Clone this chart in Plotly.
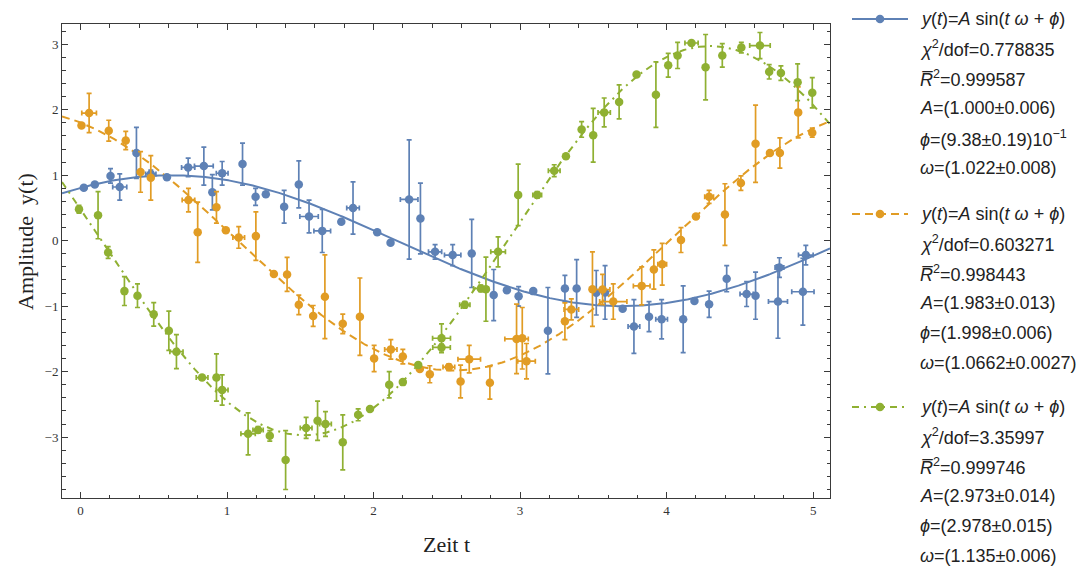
import numpy as np
import plotly.graph_objects as go

# ---------------- data ----------------
blue_t = [0.023, 0.098, 0.205, 0.268, 0.382, 0.48, 0.59, 0.735, 0.842, 0.90, 0.967, 1.106, 1.195, 1.265,
          1.39, 1.49, 1.56, 1.65, 1.78, 1.86, 2.025, 2.116, 2.243, 2.32, 2.42, 2.54, 2.67, 2.82, 2.91,
          2.99, 3.09, 3.19, 3.306, 3.386, 3.52, 3.58, 3.70, 3.777, 3.88, 3.966, 4.113, 4.19, 4.29, 4.41,
          4.546, 4.607, 4.76, 4.77, 4.93, 4.95]
blue_y = [0.81, 0.86, 0.99, 0.82, 1.34, 1.02, 0.97, 1.12, 1.14, 0.74, 1.03, 1.17, 0.67, 0.71,
          0.52, 0.86, 0.37, 0.15, 0.29, 0.50, 0.13, -0.03, 0.63, 0.34, -0.17, -0.22, -0.195, -0.83, -0.755,
          -0.85, -0.77, -1.375, -0.73, -0.73, -0.795, -0.79, -1.04, -1.31, -1.16, -1.20, -1.20, -0.92, -0.97, -0.58,
          -0.815, -0.84, -0.93, -0.41, -0.78, -0.22]
blue_xerr = [0, 0, 0, 0.048, 0, 0.035, 0, 0.045, 0.064, 0, 0.04, 0, 0, 0,
             0, 0, 0.063, 0.057, 0, 0.043, 0, 0, 0.06, 0, 0.045, 0.056, 0, 0, 0,
             0, 0, 0, 0, 0, 0, 0, 0, 0.04, 0, 0.04, 0, 0, 0, 0,
             0.045, 0, 0.065, 0.03, 0.076, 0.05]
blue_yerr = [0.03, 0.03, 0.11, 0.20, 0.39, 0.06, 0.03, 0.14, 0.29, 0.27, 0.18, 0.32, 0.13, 0.03,
             0.25, 0.36, 0.25, 0.33, 0.03, 0.40, 0.03, 0.03, 0.91, 0.54, 0.11, 0.16, 0.52, 0.39, 0.03,
             0.15, 0.03, 0.66, 0.20, 0.44, 0.34, 0.41, 0.03, 0.41, 0.23, 0.30, 0.51, 0.03, 0.20, 0.20,
             0.19, 0.36, 0.56, 0.15, 0.51, 0.15]

orange_t = [0.007, 0.059, 0.193, 0.309, 0.41, 0.48, 0.737, 0.80, 0.928, 0.992, 1.08, 1.197, 1.32, 1.41,
            1.49, 1.588, 1.668, 1.79, 1.907, 2.004, 2.118, 2.20, 2.316, 2.384, 2.514, 2.594, 2.653, 2.794,
            2.976, 3.015, 3.044, 3.306, 3.35, 3.494, 3.563, 3.636, 3.83, 3.913, 3.97, 4.098, 4.20, 4.29,
            4.398, 4.507, 4.607, 4.705, 4.773, 4.898, 4.994]
orange_y = [1.76, 1.95, 1.68, 1.53, 1.05, 0.96, 0.62, 0.13, 0.51, 0.16, 0.05, 0.07, -0.51, -0.515,
            -0.98, -1.15, -0.855, -1.27, -1.16, -1.80, -1.66, -1.77, -1.96, -2.04, -1.93, -2.15, -1.81, -2.17,
            -1.50, -1.49, -1.84, -1.23, -1.05, -0.74, -0.745, -0.93, -0.69, -0.44, -0.36, 0.01, 0.37, 0.67,
            0.40, 0.88, 1.48, 1.34, 1.34, 1.96, 1.65]
orange_xerr = [0, 0.05, 0, 0, 0, 0, 0.043, 0, 0, 0, 0.04, 0, 0, 0,
               0, 0, 0, 0, 0, 0, 0.042, 0, 0, 0, 0.04, 0, 0.077, 0,
               0.08, 0, 0.06, 0, 0.05, 0, 0.05, 0.093, 0.057, 0, 0.03, 0, 0, 0.03,
               0, 0, 0, 0, 0, 0, 0]
orange_yerr = [0.03, 0.30, 0.16, 0.14, 0.31, 0.34, 0.18, 0.46, 0.24, 0.03, 0.165, 0.37, 0.03, 0.26,
               0.15, 0.16, 0.64, 0.15, 0.59, 0.20, 0.15, 0.11, 0.03, 0.13, 0.05, 0.25, 0.21, 0.25,
               0.53, 0.47, 0.27, 0.28, 0.16, 0.57, 0.23, 0.27, 0.29, 0.30, 0.32, 0.19, 0.03, 0.10,
               0.47, 0.11, 0.59, 0.03, 0.23, 0.39, 0.07]

green_t = [-0.01, 0.12, 0.189, 0.30, 0.389, 0.50, 0.603, 0.655, 0.83, 0.928, 0.967, 1.144, 1.212, 1.292,
           1.40, 1.54, 1.618, 1.672, 1.79, 1.895, 1.976, 2.107, 2.20, 2.305, 2.464, 2.464, 2.623, 2.732,
           2.767, 2.85, 2.987, 3.117, 3.233, 3.313, 3.42, 3.499, 3.574, 3.676, 3.795, 3.927, 4.011, 4.075,
           4.17, 4.266, 4.38, 4.51, 4.637, 4.70, 4.78, 4.894, 4.994]
green_y = [0.48, 0.39, -0.18, -0.77, -0.84, -1.125, -1.375, -1.695, -2.09, -2.09, -2.28, -2.95, -2.89, -2.98,
           -3.35, -2.86, -2.75, -2.80, -3.08, -2.66, -2.57, -2.20, -2.16, -1.90, -1.49, -1.63, -0.98, -0.73,
           -0.74, -0.17, 0.70, 0.70, 1.07, 1.29, 1.70, 1.61, 1.96, 2.12, 2.54, 2.23, 2.68, 2.83,
           3.02, 2.65, 2.83, 2.95, 2.98, 2.58, 2.56, 2.42, 2.26]
green_xerr = [0, 0, 0, 0, 0, 0, 0, 0.045, 0.04, 0, 0.04, 0.049, 0.035, 0,
              0, 0.04, 0, 0.04, 0, 0, 0, 0, 0, 0, 0.061, 0.06, 0.035, 0.05,
              0, 0.05, 0, 0.03, 0.04, 0, 0, 0, 0.042, 0, 0, 0, 0, 0,
              0.045, 0, 0, 0, 0.07, 0, 0, 0, 0]
green_yerr = [0.06, 0.36, 0.09, 0.22, 0.18, 0.18, 0.30, 0.26, 0.03, 0.36, 0.23, 0.32, 0.05, 0.08,
              0.45, 0.16, 0.30, 0.19, 0.42, 0.09, 0.03, 0.20, 0.03, 0.03, 0.22, 0.05, 0.05, 0.05,
              0.49, 0.23, 0.47, 0.05, 0.09, 0.03, 0.12, 0.41, 0.22, 0.26, 0.03, 0.50, 0.18, 0.20,
              0.03, 0.50, 0.18, 0.08, 0.20, 0.11, 0.11, 0.28, 0.23]

# fit parameters (from the legend)
fit_A = [1.000, 1.983, 2.973]
fit_phi = [0.938, 1.998, 2.978]
fit_omega = [1.022, 1.0662, 1.135]

legend_texts = [
    ["<i>y</i>(<i>t</i>)=<i>A</i> sin(<i>t</i> <i>ω</i> + <i>ϕ</i>)",
     "<i>χ</i><sup>2</sup>/dof=0.778835",
     "<i>R\u0305</i><sup>2</sup>=0.999587",
     "<i>A</i>=(1.000±0.006)",
     "<i>ϕ</i>=(9.38±0.19)10<sup>−1</sup>",
     "<i>ω</i>=(1.022±0.008)"],
    ["<i>y</i>(<i>t</i>)=<i>A</i> sin(<i>t</i> <i>ω</i> + <i>ϕ</i>)",
     "<i>χ</i><sup>2</sup>/dof=0.603271",
     "<i>R\u0305</i><sup>2</sup>=0.998443",
     "<i>A</i>=(1.983±0.013)",
     "<i>ϕ</i>=(1.998±0.006)",
     "<i>ω</i>=(1.0662±0.0027)"],
    ["<i>y</i>(<i>t</i>)=<i>A</i> sin(<i>t</i> <i>ω</i> + <i>ϕ</i>)",
     "<i>χ</i><sup>2</sup>/dof=3.35997",
     "<i>R\u0305</i><sup>2</sup>=0.999746",
     "<i>A</i>=(2.973±0.014)",
     "<i>ϕ</i>=(2.978±0.015)",
     "<i>ω</i>=(1.135±0.006)"],
]

# ---------------- styling ----------------
colors = ["#5E81B5", "#E19C24", "#8FB032"]
dashes = ["solid", "8px,5px", "7px,5px,2px,5px"]
x_range = [-0.126, 5.115]
y_range = [-3.93, 3.31]
W, H = 1085, 567
ML, MR, MT, MB = 62, 255, 24, 69
PW, PH = W - ML - MR, H - MT - MB

series = [
    (blue_t, blue_y, blue_xerr, blue_yerr),
    (orange_t, orange_y, orange_xerr, orange_yerr),
    (green_t, green_y, green_xerr, green_yerr),
]

fig = go.Figure()
t_fit = np.linspace(x_range[0], x_range[1], 500)
for i in range(3):
    yf = fit_A[i] * np.sin(fit_omega[i] * t_fit + fit_phi[i])
    fig.add_trace(go.Scatter(x=t_fit, y=yf, mode="lines", showlegend=False, hoverinfo="skip",
                             line=dict(color=colors[i], width=2, dash=dashes[i])))
for i, (t, y, xe, ye) in enumerate(series):
    fig.add_trace(go.Scatter(
        x=t, y=y, mode="markers", showlegend=False,
        marker=dict(color=colors[i], size=8.5, line=dict(width=0)),
        error_y=dict(type="data", array=ye, color=colors[i], thickness=1.7, width=2.5),
        error_x=dict(type="data", array=xe, color=colors[i], thickness=1.7, width=2.5),
    ))

axis_common = dict(
    showline=True, linecolor="#3a3a3a", linewidth=1, mirror="ticks",
    ticks="inside", ticklen=6, tickwidth=1, tickcolor="#3a3a3a",
    showgrid=False, zeroline=False,
    tickfont=dict(family="Liberation Serif", size=13, color="#333"),
)
fig.update_xaxes(range=x_range, tick0=0, dtick=1,
                 minor=dict(ticks="inside", ticklen=3.5, tick0=0, dtick=0.2, tickcolor="#3a3a3a"),
                 **axis_common)
fig.update_yaxes(range=y_range, tick0=0, dtick=1,
                 minor=dict(ticks="inside", ticklen=3.5, tick0=0, dtick=0.2, tickcolor="#3a3a3a"),
                 **axis_common)

annotations = [
    dict(text="Zeit t", xref="paper", yref="paper", x=0.5, y=-(544 - (MT + PH)) / PH,
         yanchor="middle", showarrow=False, font=dict(family="Liberation Serif", size=22, color="#222")),
    dict(text="Amplitude  y(t)", xref="paper", yref="paper", x=-(ML - 25) / PW,
         y=(MT + PH - 242) / PH,
         textangle=-90, xanchor="center", yanchor="middle", showarrow=False,
         font=dict(family="Liberation Serif", size=22, color="#222")),
]

shapes = []
group_top = [19, 214, 407]
line_gap = 29.8
text_x = (918 - ML) / PW
for g in range(3):
    for k, txt in enumerate(legend_texts[g]):
        yc = group_top[g] + k * line_gap
        annotations.append(dict(text=txt, xref="paper", yref="paper", x=text_x,
                                y=(MT + PH - yc) / PH, xanchor="left", yanchor="middle",
                                showarrow=False,
                                font=dict(family="Liberation Sans", size=18, color="#222")))
    ys = (MT + PH - group_top[g]) / PH
    shapes.append(dict(type="line", xref="paper", yref="paper",
                       x0=(852 - ML) / PW, x1=(908 - ML) / PW, y0=ys, y1=ys,
                       line=dict(color=colors[g], width=2, dash=dashes[g])))
    shapes.append(dict(type="circle", xref="paper", yref="paper",
                       xsizemode="pixel", ysizemode="pixel",
                       xanchor=(880 - ML) / PW, yanchor=ys, x0=-4.3, x1=4.3, y0=-4.3, y1=4.3,
                       fillcolor=colors[g], line=dict(width=0)))

fig.update_layout(
    width=W, height=H, margin=dict(l=ML, r=MR, t=MT, b=MB, autoexpand=False),
    paper_bgcolor="white", plot_bgcolor="white",
    annotations=annotations, shapes=shapes, showlegend=False,
)

fig.write_html("out.html", config={"displayModeBar": False},
               post_script="document.body.style.margin='0';document.body.style.overflow='hidden';")
